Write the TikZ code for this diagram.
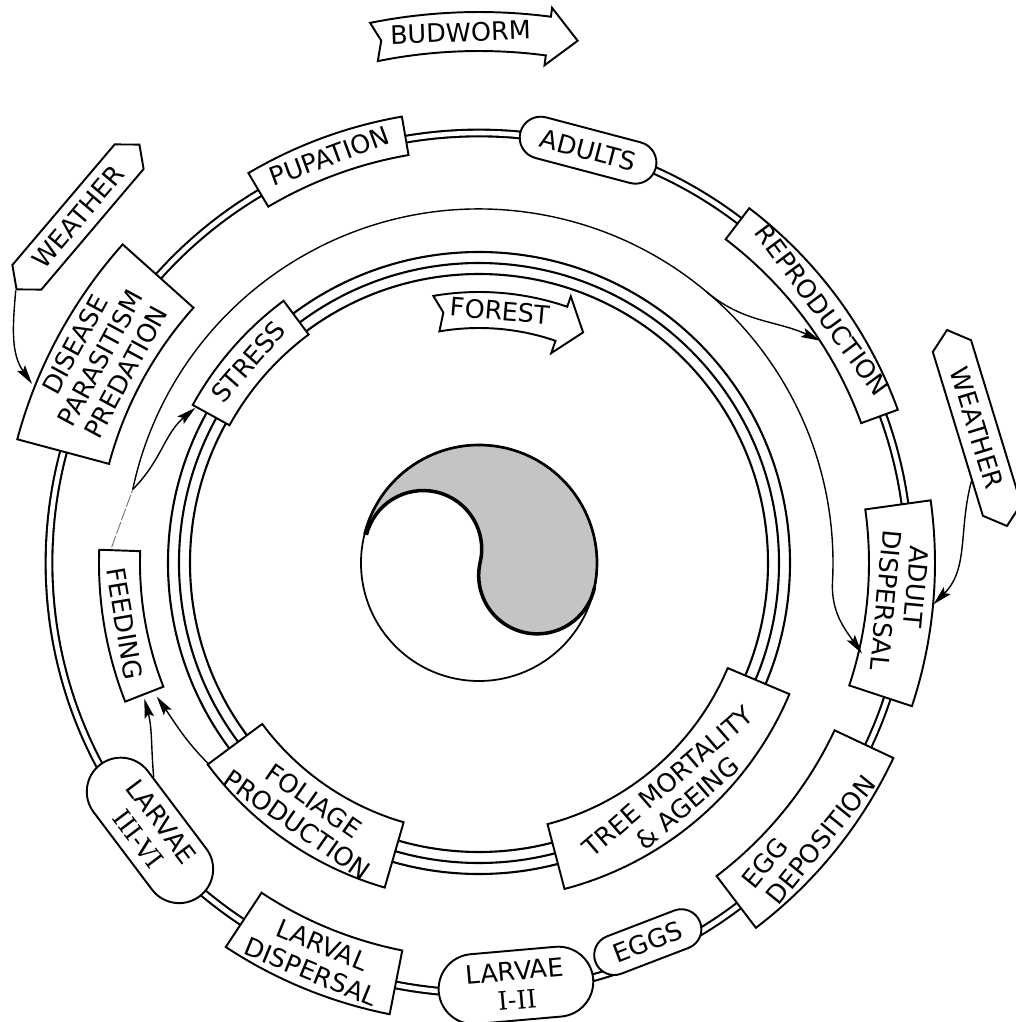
\documentclass[tikz,border=0pt]{standalone}
\usepackage{fontspec}
\setsansfont{DejaVu Sans}
\newfontfamily\numeralfont{DejaVu Serif}
\usetikzlibrary{arrows.meta,shapes.misc,shapes.symbols}
\definecolor{shadeGray}{HTML}{C4C4C4}
\definecolor{inkFaint}{HTML}{6E6E6E}

\begin{document}
\begin{tikzpicture}[x=0.02cm,y=0.02cm]

        \tikzset{
            ringLine/.style={line width=1.2pt},
            boxLine/.style={draw=black, fill=white, line width=1.1pt},
            boxText/.style={font=\sffamily\fontsize{14.5}{16.5}\selectfont, align=center, inner sep=0pt},
            pill/.style={rounded rectangle, boxLine, boxText},
            weatherTag/.style={signal, signal to=east and west, signal pointer angle=100, boxLine, boxText},
            flowLine/.style={line width=0.8pt, -{Stealth[length=11pt,width=5.5pt,inset=2pt]}}
        }

        \newcommand{\CycleBox}[7]{
            \draw[boxLine] ({#2-#3}:#4) arc[start angle={#2-#3}, end angle={#2+#3}, radius=#4]
                -- ({#2+#3}:#5) arc[start angle={#2+#3}, end angle={#2-#3}, radius=#5] -- cycle;
            \node[boxText, rotate=#6, minimum width={2*#5*sin(#3)*0.02cm}, minimum height={(#5-#4)*0.02cm}] (#1) at (#2:{(#4+#5)/2}) {#7};
        }

        \newcommand{\RibbonArrow}[8]{
            \draw[boxLine] (#1:#6) arc[start angle=#1, end angle=#2, radius=#6] -- (#2:#8) -- (#3:{(#5+#6)/2})
                -- (#2:#7) -- (#2:#5) arc[start angle=#2, end angle=#1, radius=#5] -- (#4:{(#5+#6)/2}) -- cycle;
        }

        \newcommand{\Numeral}[1]{{\numeralfont #1}}

        \path[use as bounding box, fill=white] (-479,-459) rectangle (537,563);

        \draw[ringLine, double, double distance=2.6pt] (0,0) circle (430);
        \foreach \rad in {289,300,311}
            \draw[ringLine] (0,0) circle (\rad);

        \fill[shadeGray] (166:118) arc[start angle=166, end angle=-12, radius=118]
            arc[start angle=-12, end angle=-193, radius=58.5] arc[start angle=-13, end angle=166, radius=58.5] -- cycle;
        \draw[line width=1pt] (0,0) circle (118);
        \draw[line width=1.5pt] (166:118) arc[start angle=166, end angle=-12, radius=118];
        \draw[line width=2pt] (-12:118) arc[start angle=-12, end angle=-193, radius=58.5]
            arc[start angle=-13, end angle=166, radius=58.5];

        \CycleBox{pupation}{110.2}{10.4}{414}{453}{20.2}{PUPATION}
        \CycleBox{reproduction}{36.4}{16.3}{407}{446}{-53.6}{REPRODUCTION}
        \CycleBox{adultDispersal}{-5.2}{13.1}{390}{456}{-95.2}{ADULT\phantom{AL}\\DISPERSAL}
        \CycleBox{eggDeposition}{-39}{13.8}{393}{458}{51}{EGG\phantom{OSITION}\\DEPOSITION}
        \CycleBox{larvalDispersal}{-112.3}{11.1}{395}{460}{-22.3}{LARVAL\\DISPERSAL}
        \CycleBox{disease}{151.6}{13.4}{383}{478}{61.6}{DISEASE\\PARASITISM\\PREDATION}
        \CycleBox{feeding}{189.7}{11.7}{339}{380}{-80.3}{FEEDING}
        \CycleBox{stress}{138.9}{12.2}{285}{327}{48.9}{STRESS}
        \CycleBox{foliage}{-124.8}{18.6}{270}{338}{-34.8}{FOLIAGE\\PRODUCTION}
        \CycleBox{treeMortality}{-49.1}{26.2}{270}{337}{40.9}{TREE MORTALITY\\\& AGEING}

        \node[pill, rotate=-14.8, minimum width=2.8cm, minimum height=0.84cm] (adults) at (75.2:427) {ADULTS};
        \node[pill, rotate=21, minimum width=2.24cm, minimum height=0.8cm] (eggs) at (-66:415) {EGGS};
        \node[pill, rotate=5, minimum width=3.1cm, minimum height=1.4cm] (larvaeEarly) at (-85:424) {LARVAE\\\Numeral{I-II}};
        \node[pill, rotate=-53, minimum width=3.3cm, minimum height=1.36cm] (larvaeLate) at (-140.9:424) {LARVAE\\\Numeral{III-VI}};

        \node[weatherTag, rotate=49.7, minimum width=3.8cm, minimum height=0.76cm] (weatherLeft) at (-401,346) {WEATHER};
        \node[weatherTag, rotate=-73, minimum width=4.1cm, minimum height=0.8cm] (weatherRight) at (498,135) {WEATHER};

        \RibbonArrow{101.4}{82.5}{79.3}{100.6}{512}{551}{502}{560}
        \node[boxText, rotate=2] (budworm) at (92:531) {BUDWORM};
        \RibbonArrow{99.7}{71}{65.7}{98.1}{235}{271}{222}{282}
        \node[boxText, rotate=-4.8] (forest) at (85.2:253) {FOREST};

        \coordinate (fork) at (168:354);
        \coordinate (split) at (50:354);

        \draw[line width=0.5pt, inkFaint, dash pattern=on 7pt off 1.2pt] (feeding.west) -- (fork);
        \draw[flowLine] (fork) to[out=45, in=220] (stress.172);
        \draw[flowLine] (fork) arc[start angle=168, end angle=-3, radius=354] to[out=-93, in=125] (adultDispersal.-31);
        \draw[flowLine] (split) to[out=-40, in=155] (reproduction.-40);
        \draw[flowLine] (weatherLeft.west) to[out=-95, in=125] (disease.139);
        \draw[flowLine] (weatherRight.-23) to[out=-105, in=45] (adultDispersal.north);
        \draw[flowLine] (larvaeLate.139) to[out=95, in=-75] (feeding.5);
        \draw[flowLine] (foliage.188) to[out=135, in=-55] (feeding.14);

\end{tikzpicture}
\end{document}
